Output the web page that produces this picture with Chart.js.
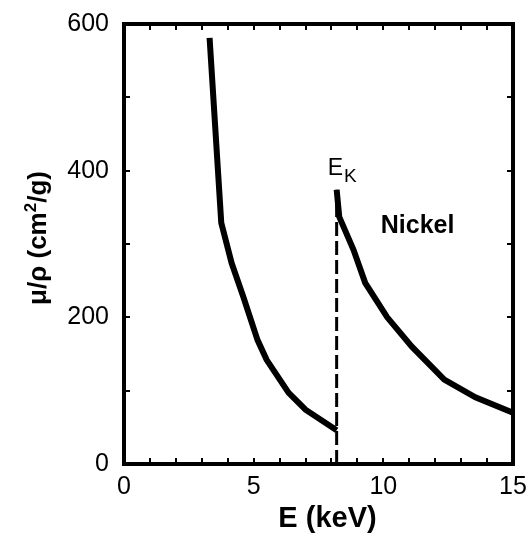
<!DOCTYPE html>
<html>
<head>
<meta charset="utf-8">
<script src="https://cdn.jsdelivr.net/npm/chart.js@4.4.1/dist/chart.umd.min.js"></script>
<style>
    html, body { margin: 0; padding: 0; background: #fff; }
</style>
</head>
<body>
<canvas id="chart" width="530" height="535"></canvas>
<script>
// Данные: ниже K-края и выше K-края (энергия, кэВ / мю/ро, см2/г)
const lowE = [3.3, 3.75, 4.15, 4.6, 5.15, 5.5, 6.35, 7.0, 8.2];
const lowMu = [581, 329, 274, 228, 169, 142, 97, 74, 46];
const highE = [8.2, 8.3, 8.85, 9.3, 10.15, 11.1, 12.35, 13.55, 15];
const highMu = [374, 337, 292, 247, 200, 160, 115, 91, 70];

// K-край никеля
const edgeE = 8.2;
const edgeMu = [0, 374];

// Оси
const xMin = 0, xMax = 15, xStep = 5, xMinorStep = 1;
const yMin = 0, yMax = 600, yStep = 200, yMinorStep = 100;

const FONT = '"Liberation Sans", Arial, Helvetica, sans-serif';
Chart.defaults.font.family = FONT;
Chart.defaults.color = '#000';

function toPoints(xs, ys) {
    return xs.map((x, i) => ({ x: x, y: ys[i] }));
}

// Без лишних отступов под крайние подписи
function noPadding(scale) {
    scale.paddingLeft = 0;
    scale.paddingRight = 0;
    scale.paddingTop = 0;
    scale.paddingBottom = 0;
}

// Рамка, внутренние засечки, подписи осей и надписи
const framePlugin = {
    id: 'frame',
    afterDraw(chart) {
        const ctx = chart.ctx;
        const a = chart.chartArea;
        const xs = chart.scales.x;
        const ys = chart.scales.y;
        const tl = 6;

        ctx.save();
        ctx.strokeStyle = '#000';
        ctx.lineWidth = 2;
        ctx.beginPath();
        for (let v = xMin + xMinorStep; v < xMax; v += xMinorStep) {
            const px = Math.round(xs.getPixelForValue(v));
            ctx.moveTo(px, a.bottom); ctx.lineTo(px, a.bottom - tl);
            ctx.moveTo(px, a.top); ctx.lineTo(px, a.top + tl);
        }
        for (let v = yMin + yMinorStep; v < yMax; v += yMinorStep) {
            const py = Math.round(ys.getPixelForValue(v));
            ctx.moveTo(a.left, py); ctx.lineTo(a.left + tl, py);
            ctx.moveTo(a.right, py); ctx.lineTo(a.right - tl, py);
        }
        ctx.stroke();

        ctx.lineWidth = 4;
        ctx.strokeRect(a.left, a.top, a.right - a.left, a.bottom - a.top);

        // Подпись оси X
        ctx.fillStyle = '#000';
        ctx.textAlign = 'center';
        ctx.textBaseline = 'alphabetic';
        ctx.font = 'bold 29px ' + FONT;
        ctx.fillText('E (keV)', (a.left + a.right) / 2 + 9, 527);

        // Подпись оси Y с верхним индексом
        ctx.save();
        ctx.translate(46, (a.top + a.bottom) / 2 - 6);
        ctx.rotate(-Math.PI / 2);
        const big = 'bold 26px ' + FONT;
        const small = 'bold 17px ' + FONT;
        const parts = [['\u03bc/\u03c1 (cm', big, 0], ['2', small, -10], ['/g)', big, 0]];
        let total = 0;
        parts.forEach(p => { ctx.font = p[1]; total += ctx.measureText(p[0]).width; });
        let cx = -total / 2;
        ctx.textAlign = 'left';
        parts.forEach(p => {
            ctx.font = p[1];
            ctx.fillText(p[0], cx, p[2]);
            cx += ctx.measureText(p[0]).width;
        });
        ctx.restore();

        // E_K
        const ex = xs.getPixelForValue(edgeE) - 9;
        ctx.textAlign = 'left';
        ctx.font = '23px ' + FONT;
        ctx.fillText('E', ex, 175);
        const ew = ctx.measureText('E').width;
        ctx.font = '19px ' + FONT;
        ctx.fillText('K', ex + ew + 1, 182);

        // Nickel
        ctx.font = 'bold 25px ' + FONT;
        ctx.fillText('Nickel', xs.getPixelForValue(9.9), ys.getPixelForValue(315));
        ctx.restore();
    }
};

const chart = new Chart(document.getElementById('chart').getContext('2d'), {
    type: 'line',
    data: {
        datasets: [
            {
                data: toPoints(lowE, lowMu),
                borderColor: '#000',
                borderWidth: 6,
                pointRadius: 0,
                tension: 0
            },
            {
                data: toPoints(highE, highMu),
                borderColor: '#000',
                borderWidth: 6,
                pointRadius: 0,
                tension: 0
            },
            {
                data: toPoints([edgeE, edgeE], edgeMu),
                borderColor: '#000',
                borderWidth: 3,
                borderDash: [14, 5],
                pointRadius: 0,
                tension: 0
            }
        ]
    },
    options: {
        responsive: false,
        animation: false,
        layout: { padding: { left: 0, right: 17, top: 24, bottom: 0 } },
        plugins: {
            legend: { display: false },
            tooltip: { enabled: false }
        },
        scales: {
            x: {
                type: 'linear',
                min: xMin,
                max: xMax,
                grid: { display: false, drawTicks: false },
                border: { display: false },
                ticks: { stepSize: xStep, padding: 8, font: { size: 25 }, color: '#000' },
                afterFit: (scale) => { scale.height = 71; noPadding(scale); }
            },
            y: {
                min: yMin,
                max: yMax,
                grid: { display: false, drawTicks: false },
                border: { display: false },
                ticks: { stepSize: yStep, padding: 15, font: { size: 25 }, color: '#000' },
                afterFit: (scale) => { scale.width = 124; noPadding(scale); }
            }
        }
    },
    plugins: [framePlugin]
});
</script>
</body>
</html>
